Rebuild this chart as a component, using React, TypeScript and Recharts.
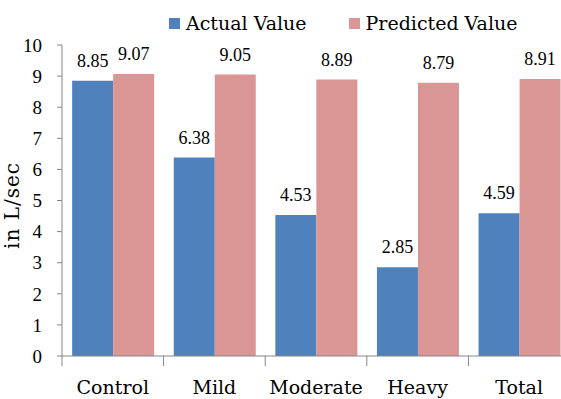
import { BarChart, Bar, XAxis, YAxis, Legend, LabelList } from 'recharts'

const categories = ['Control', 'Mild', 'Moderate', 'Heavy', 'Total']
const actualValues = [8.85, 6.38, 4.53, 2.85, 4.59]
const predictedValues = [9.07, 9.05, 8.89, 8.79, 8.91]
const yTicks = [0, 1, 2, 3, 4, 5, 6, 7, 8, 9, 10]

const BLUE = '#4F81BD'
const PINK = '#D99694'
const AXIS = '#868686'
const FONT = 'DejaVu Serif'
const NUM_FONT = 'Liberation Serif'

const PLOT_LEFT = 62
const PLOT_W = 508
const BAND = PLOT_W / categories.length

const data = categories.map((name, i) => ({ name, actual: actualValues[i], predicted: predictedValues[i] }))

// category labels, with the tick mark drawn on the band boundary like Excel does
function CategoryTick(props: any) {
  const { x, y, payload } = props
  const left = x - BAND / 2
  return (
    <g>
      <line x1={left} x2={left} y1={y - 8} y2={y + 2} stroke={AXIS} />
      <text x={x} y={y + 30} textAnchor="middle" fontFamily={FONT} fontSize={19} fill="#000">
        {payload.value}
      </text>
    </g>
  )
}

function LegendBox() {
  const items = [
    { label: 'Actual Value', color: BLUE },
    { label: 'Predicted Value', color: PINK },
  ]
  return (
    <div style={{ display: 'flex', gap: 42, fontFamily: FONT, fontSize: 19, color: '#000', lineHeight: '22px' }}>
      {items.map((it) => (
        <div key={it.label} style={{ display: 'flex', alignItems: 'center' }}>
          <span style={{ width: 11, height: 11, background: it.color, marginRight: 6, display: 'inline-block' }} />
          {it.label}
        </div>
      ))}
    </div>
  )
}

export default function App() {
  return (
    <div style={{ position: 'fixed', left: 0, top: 0, width: 561, height: 399, overflow: 'hidden', background: '#fff' }}>
      <BarChart
        width={PLOT_LEFT + PLOT_W + 5}
        height={399}
        data={data}
        margin={{ top: 45, right: 5, left: 0, bottom: 0 }}
        barCategoryGap="10%"
        barGap={0}
      >
        <XAxis
          dataKey="name"
          height={43}
          axisLine={{ stroke: AXIS }}
          tickLine={false}
          tick={<CategoryTick />}
          interval={0}
        />
        <YAxis
          width={PLOT_LEFT}
          domain={[0, 10]}
          ticks={yTicks}
          interval={0}
          axisLine={{ stroke: AXIS }}
          tickLine={{ stroke: AXIS }}
          tickSize={5}
          tickMargin={15}
          tick={{ fontFamily: NUM_FONT, fontSize: 19, fill: '#000' }}
          label={{
            value: 'in L/sec',
            angle: -90,
            position: 'insideLeft',
            offset: 12,
            dy: 5,
            style: { textAnchor: 'middle', fontFamily: FONT, fontSize: 20, letterSpacing: 1, fill: '#000' },
          }}
        />
        <Legend
          layout="horizontal"
          verticalAlign="middle"
          align="center"
          content={<LegendBox />}
          wrapperStyle={{ top: 12, left: 169, width: 400 }}
        />
        <Bar dataKey="actual" name="Actual Value" fill={BLUE} isAnimationActive={false}>
          <LabelList dataKey="actual" position="top" offset={14} fontFamily={NUM_FONT} fontSize={18} fill="#000" />
        </Bar>
        <Bar dataKey="predicted" name="Predicted Value" fill={PINK} isAnimationActive={false}>
          <LabelList dataKey="predicted" position="top" offset={14} fontFamily={NUM_FONT} fontSize={18} fill="#000" />
        </Bar>
      </BarChart>
    </div>
  )
}
